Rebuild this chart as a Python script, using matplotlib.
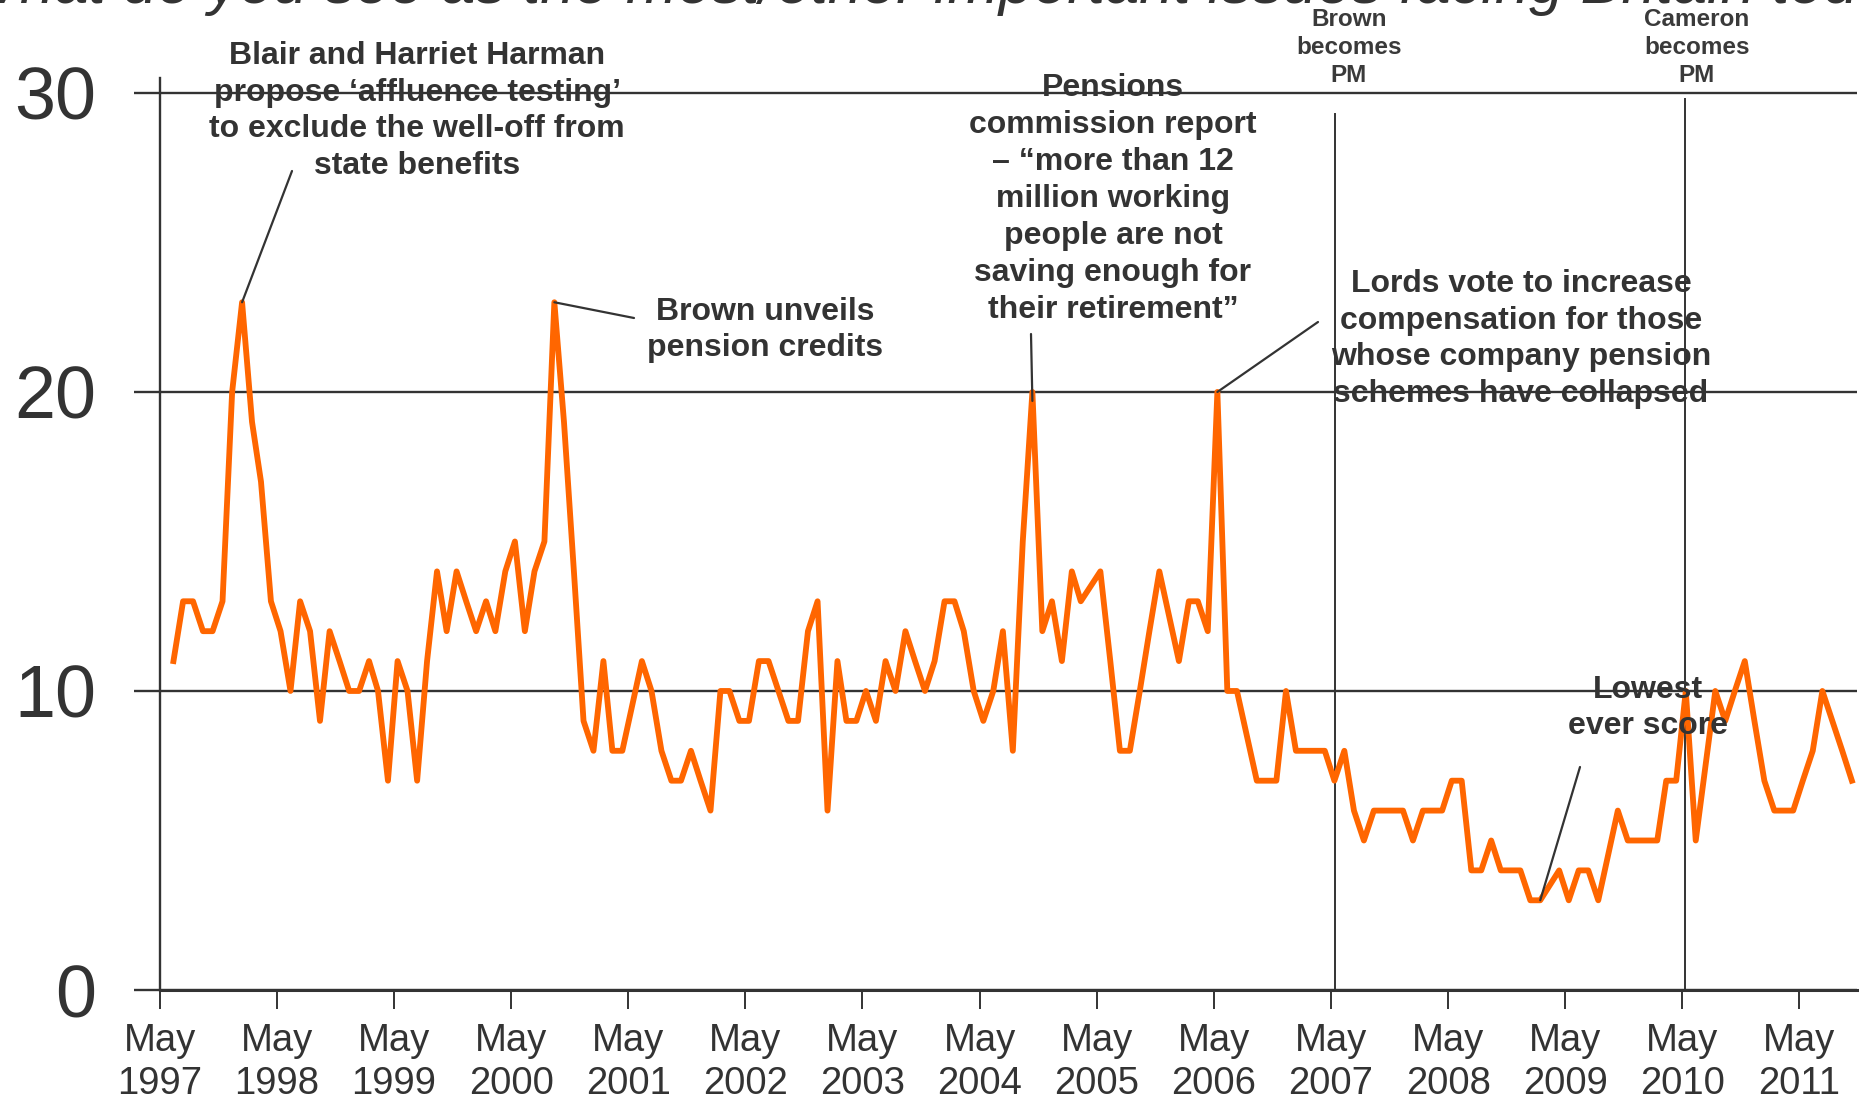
import matplotlib
matplotlib.use('Agg')
import matplotlib.pyplot as plt
import numpy as np
import pandas as pd

plt.rcParams['font.family'] = ['Liberation Sans', 'DejaVu Sans']

# ---------------- data ----------------
first_month = '1997-06'
# monthly scores, None = no reading that month
v1997 = [11, 13, 13, 12, 12, 13, 20]                       # Jun-Dec
v1998 = [23, 19, 17, 13, 12, 10, 13, 12, 9, 12, 11, 10]
v1999 = [10, 11, 10, 7, 11, 10, 7, 11, 14, 12, 14, 13]
v2000 = [12, 13, 12, 14, 15, 12, 14, 15, 23, 19, 14, 9]
v2001 = [8, 11, 8, 8, None, 11, 10, 8, 7, 7, 8, 7]
v2002 = [6, 10, 10, 9, 9, 11, 11, 10, 9, 9, 12, 13]
v2003 = [6, 11, 9, 9, 10, 9, 11, 10, 12, 11, 10, 11]
v2004 = [13, 13, 12, 10, 9, 10, 12, 8, 15, 20, 12, 13]
v2005 = [11, 14, 13, None, 14, 11, 8, 8, 10, 12, 14, None]
v2006 = [11, 13, 13, 12, 20, 10, 10, None, 7, 7, 7, 10]
v2007 = [8, 8, 8, 8, 7, 8, 6, 5, 6, 6, 6, 6]
v2008 = [5, 6, 6, 6, 7, 7, 4, 4, 5, 4, 4, 4]
v2009 = [3, 3, None, 4, 3, 4, 4, 3, None, 6, 5, 5]
v2010 = [5, 5, 7, 7, 10, 5, None, 10, 9, 10, 11, 9]
v2011 = [7, 6, 6, 6, 7, 8, 10, 9, 8, 7]                     # Jan-Oct

tick_years = list(range(1997, 2012))
y_ticks = [0, 10, 20, 30]

# event date, top of marker line, label, label centre x (px)
events = [('2007-05-15', 29.3, 'Brown\nbecomes\nPM', 1349),
          ('2010-05-08', 29.8, 'Cameron\nbecomes\nPM', 1697)]

title = 'What do you see as the most/other important issues facing Britain today?'

annotations = [
    # text, month of data point, line end value, text centre (px), line start (px)
    ('Blair and Harriet Harman\npropose \u2018affluence testing\u2019\nto exclude the well-off from\nstate benefits',
     '1998-01', 23, (417, 111), (292, 171)),
    ('Brown unveils\npension credits', '2000-09', 23, (765, 330), (634, 318)),
    ('Pensions\ncommission report\n\u2013 \u201cmore than 12\nmillion working\npeople are not\nsaving enough for\ntheir retirement\u201d',
     '2004-10', 19.7, (1113, 199), (1031, 334)),
    ('Lords vote to increase\ncompensation for those\nwhose company pension\nschemes have collapsed',
     '2006-05', 20, (1521, 339), (1318, 322)),
    ('Lowest\never score', '2009-02', 3, (1648, 708), (1580, 767)),
]

# ---------------- build series ----------------
values = (v1997 + v1998 + v1999 + v2000 + v2001 + v2002 + v2003 + v2004 +
          v2005 + v2006 + v2007 + v2008 + v2009 + v2010 + v2011)
months = pd.period_range(first_month, periods=len(values), freq='M')
dates = months.to_timestamp() + pd.Timedelta(days=11)
vals = np.array([np.nan if v is None else v for v in values], dtype=float)
mask = ~np.isnan(vals)

W, H = 1859, 1103
fig = plt.figure(figsize=(W / 100, H / 100), dpi=100)

def fx(px):
    return px / W

def fy(py):
    return 1 - py / H

x0, x1 = 160, 1857
ybot, ytop = 990, 78
ax = fig.add_axes([fx(x0), fy(ybot), fx(x1) - fx(x0), (ybot - ytop) / H])

dark = '#333333'
orange = '#FF6600'

ax.plot(dates[mask], vals[mask], color=orange, lw=4.2, solid_joinstyle='round', zorder=3)

for d, top, lab, lx in events:
    ax.plot([pd.Timestamp(d)] * 2, [0, top], color=dark, lw=1.4, zorder=2)

ax.set_ylim(0, 30.5)
ax.set_xlim(pd.Timestamp('1997-05-01'), pd.Timestamp('2011-10-28'))

ax.set_yticks(y_ticks)
ax.set_yticklabels([str(t) for t in y_ticks])
ax.yaxis.grid(True, color=dark, lw=1.7)
ax.set_axisbelow(True)
ax.tick_params(axis='y', direction='out', length=18.7, width=1.7, color=dark,
               labelsize=53, labelcolor=dark, pad=27)

xt = [pd.Timestamp(f'{y}-05-01') for y in tick_years]
ax.set_xticks(xt)
ax.set_xticklabels([f'May\n{y}' for y in tick_years])
ax.tick_params(axis='x', direction='out', length=14, width=1.4, color=dark,
               labelsize=27.5, labelcolor=dark, pad=10)
for lab in ax.get_xticklabels():
    lab.set_linespacing(1.25)

for s in ['top', 'right']:
    ax.spines[s].set_visible(False)
ax.spines['left'].set_color(dark)
ax.spines['left'].set_linewidth(1.7)
ax.spines['bottom'].set_color(dark)
ax.spines['bottom'].set_linewidth(2.2)

# title (cut off at the top, as in the source)
fig.text(fx(-38), fy(3), title, fontsize=44.3, style='italic', color=dark,
         ha='left', va='baseline')

# event labels
for d, top, lab, lx in events:
    fig.text(fx(lx), fy(47.5), lab, fontsize=17.5, fontweight='bold', color='#3a3a3a',
             ha='center', va='center', multialignment='center', linespacing=1.3)

# annotations
for text, month, val, (tx, ty), (sx, sy) in annotations:
    d = pd.Period(month, freq='M').to_timestamp() + pd.Timedelta(days=11)
    ax.annotate('', xy=(d, val), xycoords='data',
                xytext=(fx(sx), fy(sy)), textcoords='figure fraction',
                arrowprops=dict(arrowstyle='-', color=dark, lw=1.6,
                                shrinkA=0, shrinkB=0), zorder=4)
    fig.text(fx(tx), fy(ty), text, fontsize=23, fontweight='bold', color=dark,
             ha='center', va='center', multialignment='center', linespacing=1.3,
             zorder=5)

fig.savefig('out.png', dpi=100)
